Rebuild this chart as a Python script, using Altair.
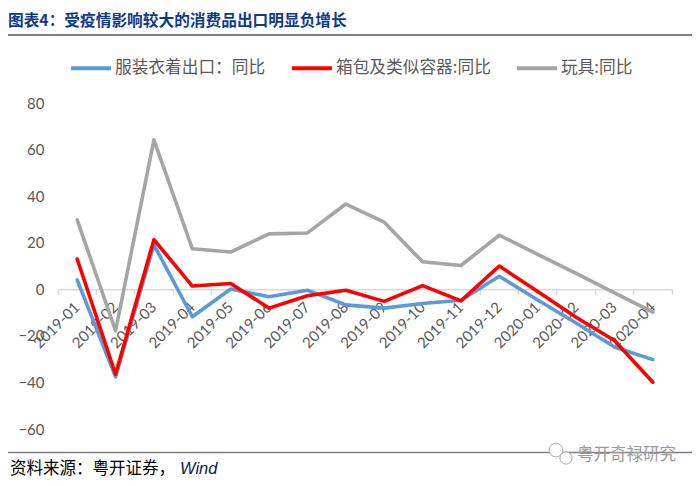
import altair as alt
import pandas as pd

months = ["2019-01", "2019-02", "2019-03", "2019-04", "2019-05", "2019-06",
          "2019-07", "2019-08", "2019-09", "2019-10", "2019-11", "2019-12",
          "2020-01", "2020-02", "2020-03", "2020-04"]
series_names = ["服装衣着出口：同比", "箱包及类似容器:同比", "玩具:同比"]
apparel = [4.0, -37.6, 19.1, -11.8, 0.1, -3.2, -0.4, -6.7, -8.1, -6.1, -4.7, 5.6, -4.6, -14.5, -24.8, -30.2]
bags = [13.0, -36.5, 21.3, 1.4, 2.5, -8.1, -2.8, -0.4, -5.2, 1.6, -5.0, 10.0, -1.0, -12.0, -22.0, -39.9]
toys = [29.8, -17.8, 64.2, 17.4, 16.0, 23.8, 24.2, 36.6, 28.8, 11.8, 10.2, 23.2, 15.0, 6.8, -1.5, -9.8]
colors = ["#5B9BD5", "#FF0000", "#A5A5A5"]
y_ticks = [-60, -40, -20, 0, 20, 40, 60, 80]

title_text = "图表4：受疫情影响较大的消费品出口明显负增长"
source_text = "资料来源：粤开证券，"
source_suffix = "Wind"
watermark_text = "粤开奇禄研究"

rows = []
for name, vals in zip(series_names, [apparel, bags, toys]):
    for m, v in zip(months, vals):
        rows.append({"month": m, "series": name, "value": v})
df = pd.DataFrame(rows)
ann = pd.DataFrame({"a": [0]})

W, H = 614, 326
zero_offset = -H * (0 - y_ticks[0]) / (y_ticks[-1] - y_ticks[0])

lines = alt.Chart(df).mark_line(strokeWidth=3.6, strokeCap="round", strokeJoin="round").encode(
    x=alt.X("month:O", sort=months,
            scale=alt.Scale(type="band", paddingInner=0, paddingOuter=0),
            axis=alt.Axis(title=None, labelAngle=-45, labelAlign="right", labelBaseline="middle",
                          labelFont="Lato", labelFontSize=15, labelColor="#595959",
                          labelPadding=10, tickSize=5, tickColor="#D9D9D9", tickWidth=1.5,
                          domainColor="#D9D9D9", domainWidth=1.5, bandPosition=1, tickExtra=True,
                          offset=zero_offset, grid=False, labelOverlap=False)),
    y=alt.Y("value:Q", scale=alt.Scale(domain=[y_ticks[0], y_ticks[-1]], nice=False, zero=False),
            axis=alt.Axis(title=None, values=y_ticks, grid=False, domain=False, ticks=False,
                          labelFont="Lato", labelFontSize=15, labelColor="#595959", labelPadding=14)),
    color=alt.Color("series:N", scale=alt.Scale(domain=series_names, range=colors),
                    legend=alt.Legend(title=None, orient="none", legendX=11, legendY=-57,
                                      direction="horizontal", symbolType="stroke", symbolSize=1600,
                                      symbolStrokeWidth=4, labelFont="Noto Sans CJK SC",
                                      labelFontSize=16.7, labelColor="#595959", labelOffset=2,
                                      columnPadding=18, padding=0)),
)

title_rule = alt.Chart(ann).mark_rule(color="#7F7F7F", strokeWidth=2).encode(
    x=alt.value(-51), x2=alt.value(634), y=alt.value(-68))
foot_rule = alt.Chart(ann).mark_rule(color="#808080", strokeWidth=1.5).encode(
    x=alt.value(-51), x2=alt.value(634), y=alt.value(349.5))

icon_big = alt.Chart(ann).mark_point(shape="circle", filled=True, fill="white", stroke="#AAAAAA",
                                     strokeWidth=1, size=190, opacity=1).encode(
    x=alt.value(498), y=alt.value(347))
icon_small = alt.Chart(ann).mark_point(shape="circle", filled=True, fill="white", stroke="#AAAAAA",
                                       strokeWidth=1, size=150, opacity=1).encode(
    x=alt.value(508), y=alt.value(355))

title = alt.Chart(ann).mark_text(text=title_text, align="left", baseline="middle",
                                 font="Noto Sans CJK SC", fontSize=15.7, fontWeight="bold",
                                 color="#0D3A8A").encode(x=alt.value(-50), y=alt.value(-82))
source = alt.Chart(ann).mark_text(text=source_text, align="left", baseline="middle",
                                  font="Noto Sans CJK SC", fontSize=16.5,
                                  color="#000000").encode(x=alt.value(-48), y=alt.value(366))
source2 = alt.Chart(ann).mark_text(text=source_suffix, align="left", baseline="middle",
                                   font="Liberation Sans", fontSize=16.5, fontStyle="italic",
                                   color="#0A1F44").encode(x=alt.value(122), y=alt.value(366))
watermark = alt.Chart(ann).mark_text(text=watermark_text, align="left", baseline="middle",
                                     font="Noto Sans CJK SC", fontSize=16.5,
                                     color="#9A9A9A").encode(x=alt.value(519), y=alt.value(352))

chart = alt.layer(title_rule, foot_rule, lines, title, source, source2,
                  icon_big, icon_small, watermark).properties(
    width=W, height=H,
    autosize=alt.AutoSizeParams(type="none"),
    padding={"left": 50, "top": 95, "right": 20, "bottom": 49},
).configure_view(stroke=None)

chart.save("out.html", embed_options={"renderer": "svg", "actions": False})
